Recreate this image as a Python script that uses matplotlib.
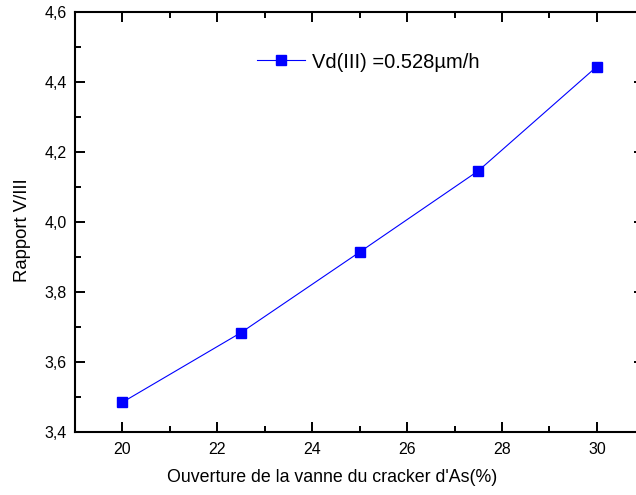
import matplotlib
matplotlib.use('Agg')
import matplotlib.pyplot as plt
from matplotlib.ticker import MultipleLocator, FuncFormatter

plt.rcParams['font.family'] = ['Liberation Sans', 'DejaVu Sans']

ouverture = [20, 22.5, 25, 27.5, 30]
rapport = [3.484, 3.683, 3.913, 4.145, 4.443]
legend_label = 'Vd(III) =0.528µm/h'

fig = plt.figure(figsize=(6.36, 4.95), dpi=100)
ax = fig.add_axes([0.118, 0.128, 0.895, 0.8485])

ax.plot(ouverture, rapport, color='blue', lw=0.8, marker='s', ms=7,
        markeredgecolor='blue', markerfacecolor='blue', label=legend_label)

ax.set_xlim(19, 31)
ax.set_ylim(3.4, 4.6)
ax.xaxis.set_major_locator(MultipleLocator(2))
ax.xaxis.set_minor_locator(MultipleLocator(1))
ax.yaxis.set_major_locator(MultipleLocator(0.2))
ax.yaxis.set_minor_locator(MultipleLocator(0.1))
ax.yaxis.set_major_formatter(FuncFormatter(lambda v, p: f'{v:.1f}'.replace('.', ',')))

ax.tick_params(which='both', direction='in', top=True, right=True, width=1.4, labelsize=11.5)
ax.tick_params(which='major', length=7)
ax.tick_params(which='minor', length=4)
ax.tick_params(axis='x', which='major', pad=7.5)
ax.tick_params(axis='y', which='major', pad=6)
for s in ax.spines.values():
    s.set_linewidth(1.5)

ax.set_xlabel("Ouverture de la vanne du cracker d'As(%)", fontsize=12.8)
ax.xaxis.set_label_coords(0.452, -0.088)
ax.set_ylabel('Rapport V/III', fontsize=13.3)
ax.yaxis.set_label_coords(-0.078, 0.48)

ax.legend(loc='center left', bbox_to_anchor=(257 / 636, 1 - 62 / 495),
          bbox_transform=fig.transFigure, frameon=False, fontsize=14.5,
          borderpad=0, borderaxespad=0, handlelength=2.4, handletextpad=0.35)

fig.savefig('out.png', dpi=100)
